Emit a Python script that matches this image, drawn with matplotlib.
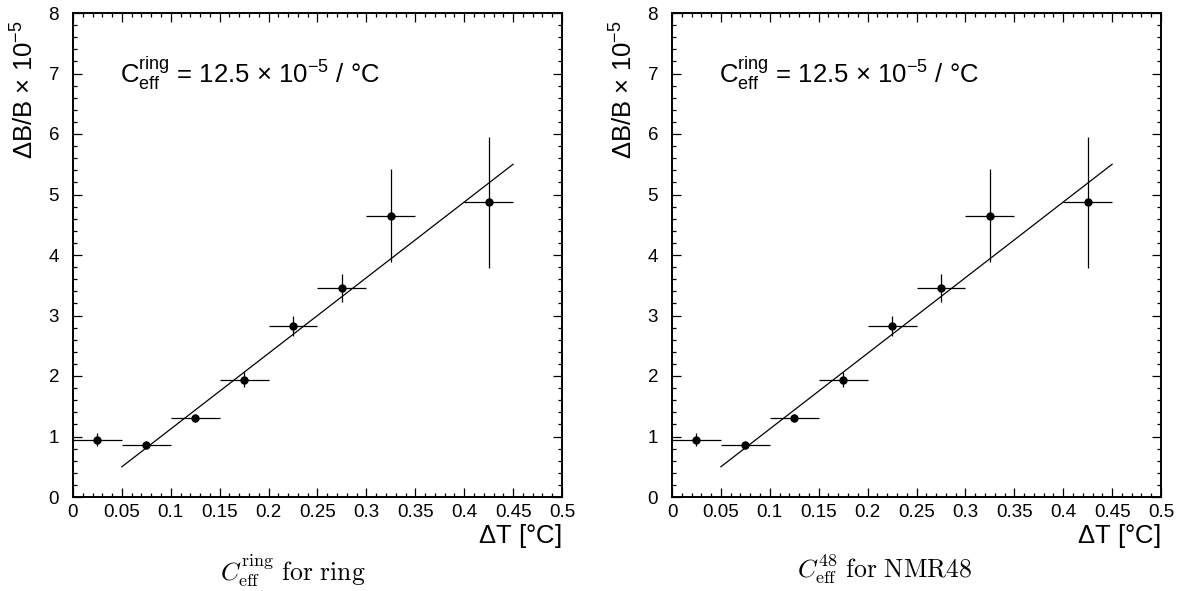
import numpy as np
import matplotlib
matplotlib.use("Agg")
import matplotlib.pyplot as plt
from matplotlib.ticker import MultipleLocator

plt.rcParams["font.family"] = ["Liberation Sans", "DejaVu Sans"]
plt.rcParams["mathtext.fontset"] = "custom"
plt.rcParams["mathtext.rm"] = "Liberation Sans"
plt.rcParams["mathtext.it"] = "Liberation Sans:italic"

# measured points, bin width 0.05 degC
dT = [0.025, 0.075, 0.125, 0.175, 0.225, 0.275, 0.325, 0.425]
dT_err = [0.025, 0.025, 0.025, 0.025, 0.025, 0.025, 0.025, 0.025]
dB = [0.95, 0.86, 1.31, 1.94, 2.83, 3.45, 4.65, 4.87]
dB_err = [0.10, 0.06, 0.07, 0.13, 0.17, 0.23, 0.77, 1.08]

# fit line
fit_slope = 12.5
fit_icpt = -0.125
fit_range = [0.05, 0.45]

xticks = [0, 0.05, 0.1, 0.15, 0.2, 0.25, 0.3, 0.35, 0.4, 0.45, 0.5]
cap_tex = [r"$C_{\mathrm{eff}}^{\mathrm{ring}}\ \mathrm{for\ ring}$",
           r"$C_{\mathrm{eff}}^{48}\ \mathrm{for\ NMR48}$"]
cap_x = [0.249, 0.751]

fig = plt.figure(figsize=(11.78, 5.91), dpi=100)
lefts = [73 / 1178, 672 / 1178]
for k, l in enumerate(lefts):
    ax = fig.add_axes([l, 1 - 497 / 591, 489 / 1178, 484 / 591])
    ax.errorbar(dT, dB, xerr=dT_err, yerr=dB_err, fmt="o", color="black",
                ms=5, elinewidth=0.9, capsize=0)
    xl = np.array(fit_range)
    ax.plot(xl, fit_slope * xl + fit_icpt, color="black", lw=0.9)
    ax.set_xlim(0, 0.5)
    ax.set_ylim(0, 8)
    ax.set_xticks(xticks)
    ax.set_xticklabels([f"{v:g}" for v in xticks])
    ax.xaxis.set_minor_locator(MultipleLocator(0.01))
    ax.yaxis.set_major_locator(MultipleLocator(1))
    ax.yaxis.set_minor_locator(MultipleLocator(0.2))
    ax.tick_params(which="both", direction="in", top=True, right=True,
                   labelsize=13.5, width=0.9)
    ax.tick_params(which="major", length=6.5)
    ax.tick_params(which="minor", length=3.2)
    ax.tick_params(axis="x", pad=5)
    ax.tick_params(axis="y", pad=10)
    for s in ax.spines.values():
        s.set_linewidth(1.4)
    ax.set_xlabel(r"$\Delta$T [$\degree$C]", fontsize=18.5, loc="right", labelpad=1)
    ax.set_ylabel(r"$\Delta$B/B $\times$ 10$^{-5}$", fontsize=18.5, loc="top")
    ax.yaxis.set_label_coords(-0.07, 0.985)
    ax.text(0.048, 7.0, r"C$_{\mathrm{eff}}^{\mathrm{ring}}$ = 12.5 $\times$ 10$^{-5}$ / $\degree$C",
            fontsize=18.5, va="center", ha="left")
    fig.text(cap_x[k], 1 - 552 / 591, cap_tex[k], ha="center", va="top",
             fontsize=18.5, math_fontfamily="cm")

fig.savefig("out.png", dpi=100)
